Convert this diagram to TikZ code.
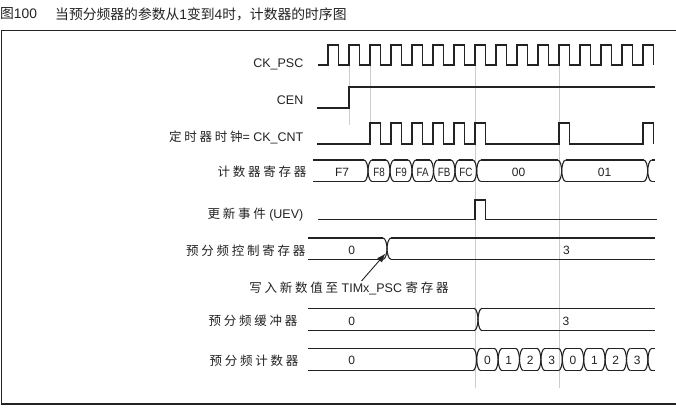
\documentclass[tikz,border=0pt]{standalone}
\usepackage{fontspec}
\setmainfont{Liberation Sans}
\newfontfamily\cjk{Noto Sans CJK SC}
\newfontfamily\cjks{Noto Sans CJK SC}[LetterSpace=22]
\usetikzlibrary{arrows.meta}
\definecolor{ink}{HTML}{222222}
\definecolor{guide}{HTML}{CCCCCC}
\tikzset{
  wave/.style={draw=ink, line width=1.1pt, line join=miter},
  guideline/.style={draw=guide, line width=0.7pt},
  lab/.style={anchor=base east, inner sep=0pt, font=\fontsize{12.5}{14}\selectfont, text=ink},
  val/.style={anchor=base, inner sep=0pt, font=\fontsize{12}{14}\selectfont, text=ink},
  frameline/.style={draw=ink, line width=1.4pt},
  titletext/.style={anchor=west, inner sep=0pt, font=\fontsize{13.8}{15}\selectfont, text=ink},
}
% transition ")(" at x, between top and bottom
\newcommand\tx[3]{%
  \draw[wave] ({#1-4},#2) .. controls ({#1-1.5},#2) and (#1,{#2+0.3*(#3-#2)}) .. (#1,{0.5*(#2+#3)})
     .. controls (#1,{#3-0.3*(#3-#2)}) and ({#1-1.5},#3) .. ({#1-4},#3);
  \draw[wave] ({#1+4},#2) .. controls ({#1+1.5},#2) and (#1,{#2+0.3*(#3-#2)}) .. (#1,{0.5*(#2+#3)})
     .. controls (#1,{#3-0.3*(#3-#2)}) and ({#1+1.5},#3) .. ({#1+4},#3);
}
% bus: top, bottom, start, end, transitions
\newcommand\bus[5]{%
  \foreach \x [remember=\x as \lx (initially #3-4)] in {#5}{%
    \draw[wave] ({\lx+4},#1) -- ({\x-4},#1) ({\lx+4},#2) -- ({\x-4},#2);
    \tx{\x}{#1}{#2}
    \xdef\lastx{\x}
  }
  \draw[wave] ({\lastx+4},#1) -- (#4,#1) ({\lastx+4},#2) -- (#4,#2);
}
\begin{document}
\begin{tikzpicture}[x=1pt,y=-1pt]
\useasboundingbox (0,0) rectangle (676,407);
% frame
\draw[frameline] (676,30.5) -- (1.5,30.5) -- (1.5,404) -- (676,404);
% title
\node[titletext] (t1) at (0,14) {{\cjk 图}100};
\node[titletext] (t2) at (55,14) {{\cjk 当预分频器的参数从}1{\cjk 变到}4{\cjk 时，计数器的时序图}};
% guide lines
\draw[guideline] (349,66) -- (349,125);
\draw[guideline] (370,66) -- (370,123);
\draw[guideline] (475,66) -- (475,388);
\draw[guideline] (559.5,66) -- (559.5,388);
% labels
\node[lab] (lpsc) at (303.5,67) {CK\_PSC};
\node[lab] (lcen) at (303.5,104) {CEN};
\node[lab] (lcnt) at (303.5,141.7) {{\cjks 定时器时钟}= CK\_CNT};
\node[lab] (lreg) at (306.5,176.4) {\cjks 计数器寄存器};
\node[lab] (luev) at (303.5,218) {{\cjks 更新事件} (UEV)};
\node[lab] (lctl) at (305.5,255.5) {\cjks 预分频控制寄存器};
\node[lab] (lbuf) at (297.5,325.8) {\cjks 预分频缓冲器};
\node[lab] (lpcn) at (298.5,365.5) {\cjks 预分频计数器};
\node[anchor=base, inner sep=0pt, font=\fontsize{12.5}{14}\selectfont, text=ink] (note) at (349,292.3)
  {{\cjks 写入新数值至} TIMx\_PSC {\cjks 寄存器}};
% CK_PSC
\draw[wave] (318,65) \foreach \k in {0,...,15}{ -- ({328+21*\k},65) -- ({328+21*\k},45) -- ({338.5+21*\k},45) -- ({338.5+21*\k},65) };
% CEN
\draw[wave] (317,108) -- (349,108) -- (349,87) -- (655,87);
% CK_CNT
\draw[wave] (317,144) \foreach \x in {370,391,412,433,454,475,559,643}{ -- (\x,144) -- (\x,123) -- (\x+10.5,123) -- (\x+10.5,144) };
% counter register
\bus{160}{181.5}{313}{655}{368,390,412,433.5,455,476.7,561.7,647.7}
\node[val] (vf7) at (342,176.7) {F7};
\node[val] (vf8) at (379,176.7) {\scalebox{0.82}[1]{F8}};
\node[val] (vf9) at (401,176.7) {\scalebox{0.82}[1]{F9}};
\node[val] (vfa) at (422.7,176.7) {\scalebox{0.82}[1]{FA}};
\node[val] (vfb) at (444.2,176.7) {\scalebox{0.82}[1]{FB}};
\node[val] (vfc) at (465.8,176.7) {\scalebox{0.82}[1]{FC}};
\node[val] (v00) at (518.5,176.4) {00};
\node[val] (v01) at (604.5,176.4) {01};
% UEV
\draw[wave] (318,219.5) -- (475,219.5) -- (475,200) -- (485.5,200) -- (485.5,219.5) -- (657,219.5);
% prescaler control register
\bus{238}{259.3}{308}{655}{387}
\node[val] (c0) at (351.7,254.3) {0};
\node[val] (c3) at (566.5,254.3) {3};
% arrow
\coordinate (arrtail) at (361.5,281);
\coordinate (arrtip) at (385.5,253.5);
\draw[draw=ink, line width=0.9pt, -{Latex[length=9pt,width=6.5pt]}] (arrtail) -- (arrtip);
% prescaler buffer
\bus{308.3}{330.7}{308}{655}{478}
\node[val] (b0) at (351.7,325) {0};
\node[val] (b3) at (566,325) {3};
% prescaler counter
\bus{348.3}{370.7}{308}{655}{476.7,498.1,519.5,540.9,562.3,583.7,605.1,626.5,647.9}
\node[val] (p0) at (351.7,364.3) {0};
\foreach \v [count=\i from 0] in {0,1,2,3,0,1,2,3}{
  \node[val] (pc\i) at ({487.4+21.4*\i},364.3) {\v};
}
\end{tikzpicture}
\end{document}
